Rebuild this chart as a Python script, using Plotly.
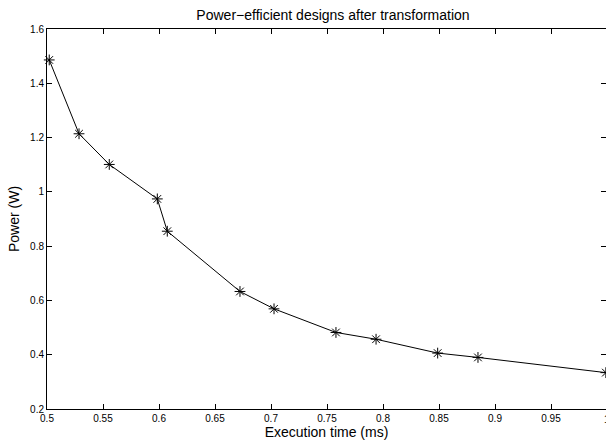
import plotly.graph_objects as go

exec_time_ms = [0.502, 0.5286, 0.5556, 0.5985, 0.6074, 0.6723, 0.7027, 0.758, 0.7938, 0.8488, 0.8848, 0.999]
power_w = [1.486, 1.214, 1.101, 0.974, 0.855, 0.633, 0.569, 0.482, 0.457, 0.406, 0.390, 0.334]

x_ticks = [0.5, 0.55, 0.6, 0.65, 0.7, 0.75, 0.8, 0.85, 0.9, 0.95, 1]
x_tick_text = ["0.5", "0.55", "0.6", "0.65", "0.7", "0.75", "0.8", "0.85", "0.9", "0.95", "1"]
y_ticks = [0.2, 0.4, 0.6, 0.8, 1.0, 1.2, 1.4, 1.6]
y_tick_text = ["0.2", "0.4", "0.6", "0.8", "1", "1.2", "1.4", "1.6"]

font = "Liberation Sans, Arial, Helvetica, sans-serif"

x_range = [0.5, 0.5 + 0.5 * 559 / 560]

fig = go.Figure()
fig.add_trace(go.Scatter(
    x=exec_time_ms, y=power_w, mode="lines+markers",
    line=dict(color="black", width=1),
    marker=dict(symbol="asterisk-open", size=9, color="black", line=dict(color="black", width=1)),
    cliponaxis=False, showlegend=False,
))

# the "1" tick label sits right at the clipped right edge in the reference
fig.add_annotation(x=(x_ticks[-1] - x_range[0]) / (x_range[1] - x_range[0]), y=0,
                   xref="paper", yref="paper", text=x_tick_text[-1], showarrow=False,
                   xanchor="center", yanchor="top", yshift=-3,
                   font=dict(family=font, size=10, color="black"))

fig.update_layout(
    width=606, height=443,
    margin=dict(l=47, r=0, t=29, b=34, autoexpand=False),
    paper_bgcolor="white", plot_bgcolor="white",
    font=dict(family=font, size=10, color="black"),
    title=dict(text="Power\u2212efficient designs after transformation", x=333 / 606,
               xanchor="center", y=1 - 15 / 443, yanchor="middle", automargin=False,
               font=dict(family=font, size=14, color="black")),
)
fig.update_xaxes(
    range=x_range, tickvals=x_ticks, ticktext=x_tick_text,
    ticks="inside", ticklen=5, tickcolor="black", tickwidth=1,
    showline=True, linecolor="black", linewidth=1, mirror="ticks",
    showgrid=False, zeroline=False, automargin=False,
    title=dict(text="Execution time (ms)", standoff=3, font=dict(family=font, size=14)),
    tickfont=dict(family=font, size=10),
)
fig.update_yaxes(
    range=[0.2, 1.6], tickvals=y_ticks, ticktext=y_tick_text,
    ticks="inside", ticklen=5, tickcolor="black", tickwidth=1,
    showline=True, linecolor="black", linewidth=1, mirror="ticks",
    showgrid=False, zeroline=False, automargin=False,
    title=dict(text="Power (W)", standoff=7, font=dict(family=font, size=14)),
    tickfont=dict(family=font, size=10),
)

fig.write_html("out.html", config={"displayModeBar": False},
               post_script="document.body.style.margin='0';")
